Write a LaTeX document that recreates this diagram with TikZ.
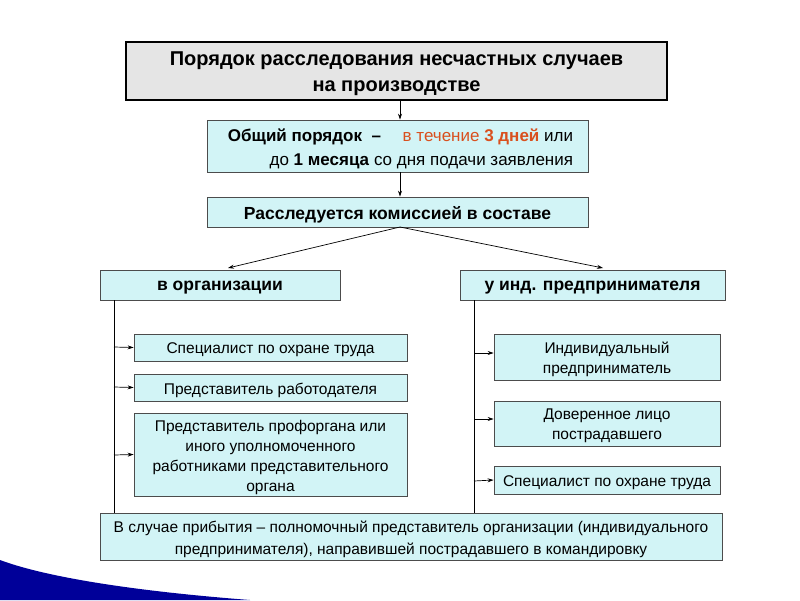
\documentclass[tikz,border=0pt]{standalone}
\usepackage{fontspec}
\setmainfont{Liberation Sans}
\usetikzlibrary{arrows.meta}
\newcommand\bxx[7]{\node[bx,minimum width=#4,minimum height=#5] (#1) at (#2,#3) {};
 \node[align=center,inner sep=0pt,font=#6] (#1t) at ([yshift=-2.5pt]#1.center) {#7};}
\begin{document}
\begin{tikzpicture}[x=1pt,y=-1pt,
 bx/.style={draw=black!70,fill=cyanbg,line width=0.8pt,inner sep=0pt},
 ar/.style={-{Stealth[length=6pt,width=4pt]},line width=0.7pt},
 ln/.style={line width=0.7pt}]
\definecolor{cyanbg}{HTML}{D2F4F6}
\definecolor{redt}{HTML}{D9501E}
\useasboundingbox (0,0) rectangle (800,600);
\fill[white] (0,0) rectangle (800,600);
\fill[blue!60!black] (0,600) -- (0,560) .. controls (40,575) and (120,590) .. (250,600) -- cycle;
\tikzset{bx/.append style={}}
\node[draw=black,line width=2pt,fill=black!10,minimum width=541,minimum height=58] (t) at (396.5,71) {};
\node[align=center,font=\bfseries\fontsize{20}{26}\selectfont] (tt) at ([yshift=-2.5pt]t.center) {Порядок расследования несчастных случаев\\на производстве};
\bxx{g}{397.5}{146}{381}{52}{\fontsize{17}{24}\selectfont}{\hspace*{6pt}\textbf{Общий порядок \ –}\quad\ {\color{redt}в течение \textbf{3 дней}} или\\\hfill до \textbf{1 месяца} со дня подачи заявления}
\bxx{r}{397.5}{212}{381}{30}{\bfseries\fontsize{17.5}{20}\selectfont}{Расследуется комиссией в составе}
\bxx{o}{220}{285}{240}{30}{\bfseries\fontsize{17.5}{20}\selectfont}{в организации}
\bxx{p}{592.5}{285}{265}{30}{\bfseries\fontsize{17.5}{20}\selectfont}{у инд. предпринимателя}
\draw[ar] (t.south -| 400,0) -- (g.north -| 400,0);
\draw[ar] (g.south -| 400,0) -- (r.north -| 400,0);
\coordinate (rs) at (400,227);
\coordinate (oa) at (228,268);
\coordinate (pa) at (603,268);
\draw[ar] (rs) -- (oa);
\draw[ar] (rs) -- (pa);
\def\sf{\fontsize{15.5}{20}\selectfont}
\bxx{l1}{270.5}{347.5}{273}{27}{\sf}{Специалист по охране труда}
\bxx{l2}{270.5}{387.5}{273}{27}{\sf}{Представитель работодателя}
\bxx{l3}{270.5}{454.5}{273}{83}{\sf}{Представитель профоргана или\\иного уполномоченного\\работниками представительного\\органа}
\bxx{q1}{607}{357}{226}{46}{\sf}{Индивидуальный\\предприниматель}
\bxx{q2}{607}{423.5}{226}{45}{\sf}{Доверенное лицо\\пострадавшего}
\bxx{q3}{607}{480}{226}{28}{\sf}{Специалист по охране труда}
\coordinate (lv) at (114,300);
\coordinate (rv) at (474,300);
\draw[ln] (lv) -- (114,513);
\draw[ln] (rv) -- (474,513);
\draw[ar] (114,347) -- (l1.west);
\draw[ar] (114,387) -- (l2.west);
\draw[ar] (114,455) -- (l3.west);
\draw[ar] (474,353) -- (q1.west |- 0,353);
\draw[ar] (474,419) -- (q2.west |- 0,419);
\draw[ar] (474,481) -- (q3.west);
\bxx{b}{411}{536.5}{622}{47}{\fontsize{15.5}{22}\selectfont}{В случае прибытия – полномочный представитель организации (индивидуального\\предпринимателя), направившей пострадавшего в командировку}
\end{tikzpicture}
\end{document}
